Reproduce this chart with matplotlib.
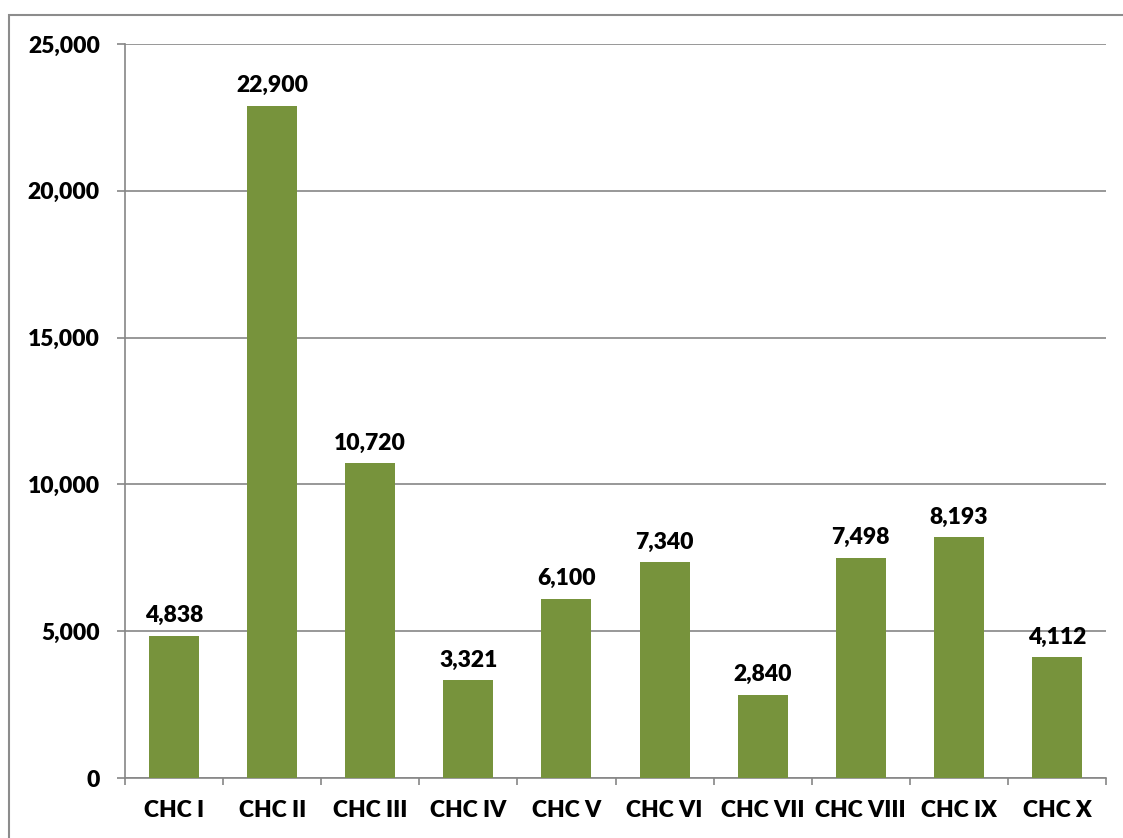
import matplotlib
matplotlib.use("Agg")
import matplotlib.pyplot as plt
from matplotlib.patches import Rectangle
from matplotlib.ticker import FuncFormatter, MultipleLocator
import numpy as np

categories = ["CHC I", "CHC II", "CHC III", "CHC IV", "CHC V",
              "CHC VI", "CHC VII", "CHC VIII", "CHC IX", "CHC X"]
values = [4838, 22900, 10720, 3321, 6100, 7340, 2840, 7498, 8193, 4112]

plt.rcParams['font.family'] = ['Lato', 'DejaVu Sans']
plt.rcParams['font.weight'] = 'heavy'

fig = plt.figure(figsize=(11.23, 8.38), dpi=100)
ax = fig.add_axes([125 / 1123, 1 - 778 / 838, (1106 - 125) / 1123, (778 - 44) / 838])

# outer chart border (runs off the right/bottom edge)
fig.patches.append(Rectangle((9 / 1123, -0.05), 1.2, 1 - 15 / 838 + 0.05,
                             transform=fig.transFigure, fill=False,
                             edgecolor='#8c8c8c', linewidth=1.5))

x = np.arange(len(categories))
ax.bar(x, values, width=0.51, color='#77933C', zorder=3)

for xi, v in zip(x, values):
    ax.annotate('{:,}'.format(v), (xi, v), xytext=(0, 7), textcoords='offset points',
                ha='center', va='bottom', fontsize=16.5, fontweight='heavy', zorder=4)

ax.set_xlim(-0.5, len(categories) - 0.5)
ax.set_ylim(0, 25000)
ax.yaxis.set_major_locator(MultipleLocator(5000))
ax.yaxis.set_major_formatter(FuncFormatter(lambda v, p: '{:,.0f}'.format(v)))
ax.grid(axis='y', color='#868686', linewidth=1.2, zorder=0)

ax.set_xticks(x)
ax.set_xticklabels(categories)
ax.set_xticks(np.arange(len(categories) + 1) - 0.5, minor=True)
ax.tick_params(axis='x', which='major', length=0, pad=16, labelsize=16.5)
ax.tick_params(axis='x', which='minor', length=5, width=1.2, color='#868686')
ax.tick_params(axis='y', length=6, width=1.2, color='#868686', pad=12, labelsize=16.5)

for s in ['top', 'right']:
    ax.spines[s].set_visible(False)
for s in ['left', 'bottom']:
    ax.spines[s].set_color('#868686')
    ax.spines[s].set_linewidth(1.2)

fig.savefig('out.png', dpi=100)
